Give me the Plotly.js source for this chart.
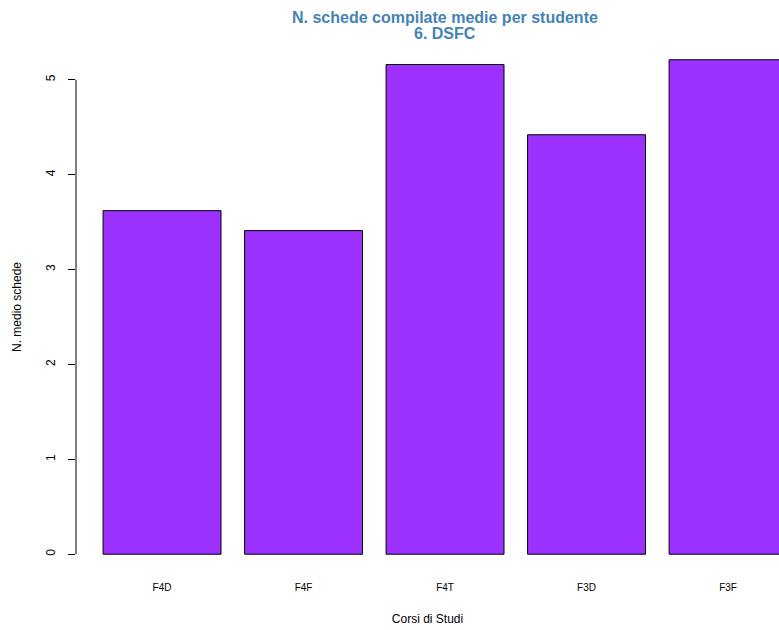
<!DOCTYPE html>
<html>
<head>
<meta charset="utf-8">
<script src="https://cdn.plot.ly/plotly-3.0.1.min.js"></script>
<style>html,body{margin:0;padding:0;background:#fff;}#chart{width:779px;height:630px;}</style>
</head>
<body>
<div id="chart"></div>
<script>
const categories = ["F4D", "F4F", "F4T", "F3D", "F3F"];
const values = [3.62, 3.41, 5.16, 4.42, 5.21];
const yTicks = [0, 1, 2, 3, 4, 5];
const yTickLabels = ["0", "1", "2", "3", "4", "5"];
const titleLines = ["N. schede compilate medie per studente", "6. DSFC"];

const font = "Liberation Sans, Arial, Helvetica, sans-serif";

const trace = {
  type: "bar",
  x: categories,
  y: values,
  marker: { color: "#9B30FF", line: { color: "#000000", width: 1 } },
  hoverinfo: "x+y"
};

const titleY = [18, 34];
const annotations = titleLines.map((t, i) => ({
  text: "<b>" + t + "</b>",
  font: { family: font, size: 16, color: "#4682B4" },
  xref: "paper", yref: "paper",
  x: (445 - 76) / 703, xanchor: "center",
  y: 1 + (40 - titleY[i]) / 534, yanchor: "middle",
  showarrow: false
}));

const layout = {
  width: 779,
  height: 630,
  paper_bgcolor: "#ffffff",
  plot_bgcolor: "#ffffff",
  margin: { l: 76, r: 0, t: 40, b: 56, pad: 0 },
  bargap: 1 / 6,
  showlegend: false,
  font: { family: font, color: "#000000" },
  annotations: annotations,
  xaxis: {
    type: "category",
    range: [-0.608, 4.360],
    showline: false, showgrid: false, zeroline: false,
    ticks: "outside", ticklen: 4, tickcolor: "rgba(0,0,0,0)",
    tickfont: { family: font, size: 10, color: "#000000" },
    title: { text: "Corsi di Studi", font: { family: font, size: 12, color: "#000000" }, standoff: 22 },
    fixedrange: true
  },
  yaxis: {
    range: [-0.2084, 5.4184],
    tickvals: yTicks,
    ticktext: yTickLabels,
    showline: false, showgrid: false, zeroline: false,
    ticks: "outside", ticklen: 7, tickcolor: "#000000", tickwidth: 1,
    tickangle: -90,
    ticklabelstandoff: 8,
    tickfont: { family: font, size: 12, color: "#000000" },
    title: { text: "N. medio schede", font: { family: font, size: 12, color: "#000000" }, standoff: 20 },
    fixedrange: true
  },
  shapes: [{
    type: "line", xref: "paper", yref: "y",
    x0: 0, x1: 0, y0: yTicks[0], y1: yTicks[yTicks.length - 1],
    line: { color: "#000000", width: 1 }
  }]
};

Plotly.newPlot("chart", [trace], layout, { displayModeBar: false, staticPlot: true });
</script>
</body>
</html>
